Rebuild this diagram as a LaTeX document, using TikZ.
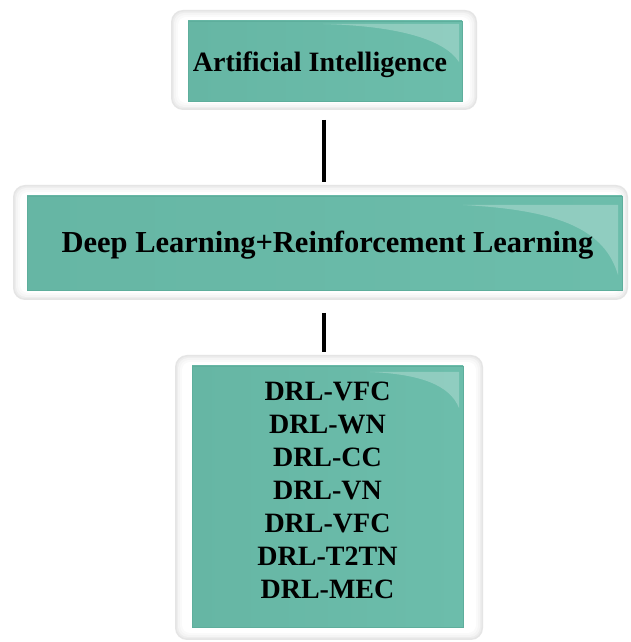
\documentclass[tikz,border=0pt]{standalone}
\usepackage{fontspec}
\setmainfont{Liberation Serif}
\usetikzlibrary{calc}

\definecolor{tealDark}{HTML}{66B6A4}
\definecolor{tealMid}{HTML}{75C6B4}
\definecolor{tealEdge}{HTML}{6CBDAB}
\definecolor{tealRim}{HTML}{5EAE9C}

\tikzset{
  x=1pt, y=1pt,
  frame/.style={rectangle, inner sep=0pt, outer sep=0pt, rounded corners=12pt, fill=black!10},
  panel/.style={rectangle, inner sep=0pt, outer sep=0pt, draw=tealRim, line width=0.8pt,
                left color=tealDark, middle color=tealMid, right color=tealEdge},
  gloss/.style={fill=white, fill opacity=0.25},
  boxtext/.style={inner sep=0pt, outer sep=0pt, font=\bfseries\fontsize{28}{33}\selectfont},
  link/.style={line width=4pt, draw=black}
}

% soft white bezel inside a frame node
\newcommand\bezellayers[1]{%
  \fill[black!7, rounded corners=11pt] ($(#1.south west)+(1.5pt,1.5pt)$) rectangle ($(#1.north east)+(-1.5pt,-1.5pt)$);
  \fill[black!4, rounded corners=10pt] ($(#1.south west)+(3pt,3pt)$) rectangle ($(#1.north east)+(-3pt,-3pt)$);
  \fill[black!2, rounded corners=9pt] ($(#1.south west)+(5pt,5pt)$) rectangle ($(#1.north east)+(-5pt,-5pt)$);
  \fill[white, rounded corners=8pt] ($(#1.south west)+(7pt,7pt)$) rectangle ($(#1.north east)+(-7pt,-7pt)$);
}

\begin{document}
\begin{tikzpicture}
  \useasboundingbox (0,0) rectangle (630,642);
  \fill[white] (0,0) rectangle (630,642);

  % frames
  \node[frame, minimum width=306pt, minimum height=100pt] (f1) at (324,582) {};
  \node[frame, minimum width=615pt, minimum height=115pt] (f2) at (320.5,399.5) {};
  \node[frame, minimum width=308pt, minimum height=285pt] (f3) at (329,144.5) {};
  \bezellayers{f1}
  \bezellayers{f2}
  \bezellayers{f3}

  % teal panels
  \node[panel, minimum width=274pt, minimum height=80pt] (t1) at (325,581) {};
  \node[panel, minimum width=595pt, minimum height=94pt] (t2) at (324.5,399) {};
  \node[panel, minimum width=271pt, minimum height=261pt] (t3) at (327.5,145.5) {};

  % glossy highlights in the upper right corners
  \fill[gloss] (323,618) .. controls (400,616) and (445,602) .. (459,580) -- (459,618) -- cycle;
  \fill[gloss] (463,437) .. controls (560,432) and (605,412) .. (618,367) -- (618,437) -- cycle;
  \fill[gloss] (370,270) .. controls (420,268) and (450,257) .. (459,234) -- (459,270) -- cycle;

  % texts
  \node[boxtext, anchor=base] (n1) at (320,570) {Artificial Intelligence};
  \node[boxtext, anchor=base, font=\bfseries\fontsize{30.5}{36}\selectfont] (n2) at (327.5,389)
    {Deep Learning+Reinforcement Learning};
  \node[boxtext, anchor=north, align=center] (n3) at (327.5,260)
    {DRL-VFC\\DRL-WN\\DRL-CC\\DRL-VN\\DRL-VFC\\DRL-T2TN\\DRL-MEC};

  % connectors
  \draw[link, shorten <=10pt, shorten >=3pt] (f1.south) -- (f1.south |- f2.north);
  \draw[link, shorten <=13pt, shorten >=3pt] (f2.south -| f1.south) -- (f3.north -| f1.south);
\end{tikzpicture}
\end{document}
